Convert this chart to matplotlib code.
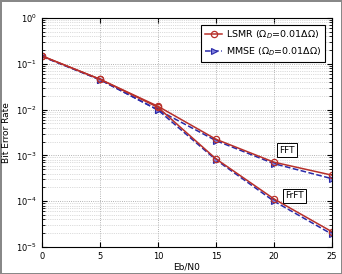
import matplotlib
matplotlib.use("Agg")
import matplotlib.pyplot as plt

# Eb/N0 points
ebn0 = [0, 5, 10, 15, 20, 25]

# BER values
lsmr_fft = [0.148, 0.046, 0.0118, 2.25e-3, 7.1e-4, 3.7e-4]
lsmr_frft = [0.148, 0.046, 0.0112, 8.4e-4, 1.12e-4, 2.15e-5]
mmse_fft = [0.145, 0.045, 0.0098, 2.1e-3, 6.6e-4, 3.1e-4]
mmse_frft = [0.145, 0.045, 0.0098, 8.0e-4, 1.0e-4, 1.9e-5]

xticks = [0, 5, 10, 15, 20, 25]

red = "#b8302a"
blue = "#2a2aa8"

fig = plt.figure(figsize=(3.42, 2.74), dpi=100)
fig.patch.set_edgecolor("#888888")
fig.patch.set_linewidth(2)
ax = fig.add_axes([42 / 342, 1 - 247 / 274, 290 / 342, 229 / 274])

for y in (mmse_fft, mmse_frft):
    ax.semilogy(ebn0, y, "--", color=blue, lw=1.1, marker=">", ms=4.5,
                mfc="#8080e0", mec=blue, mew=0.8)
for y in (lsmr_fft, lsmr_frft):
    ax.semilogy(ebn0, y, "-", color=red, lw=1.1, marker="o", ms=4.5,
                mfc="none", mec=red, mew=0.9)

ax.set_xlim(0, 25)
ax.set_ylim(1e-5, 1)
ax.set_xticks(xticks)
ax.grid(True, which="major", ls=":", color="#999999", lw=0.6)
ax.grid(True, which="minor", ls=":", color="#bbbbbb", lw=0.5)
ax.tick_params(which="both", direction="in", labelsize=6, top=True, right=True)
ax.set_xlabel("Eb/N0", fontsize=6.5, labelpad=1)
ax.set_ylabel("Bit Error Rate", fontsize=6.5, labelpad=4)

h_l, = ax.plot([], [], "-", color=red, lw=1.1, marker="o", ms=4.5,
               mfc="none", mec=red, mew=0.9)
h_m, = ax.plot([], [], "--", color=blue, lw=1.1, marker=">", ms=4.5,
               mfc="#8080e0", mec=blue, mew=0.8)
leg = ax.legend([h_l, h_m],
                [r"LSMR ($\Omega_D$=0.01$\Delta\Omega$)",
                 r"MMSE ($\Omega_D$=0.01$\Delta\Omega$)"],
                loc="upper right", fontsize=6.8, fancybox=False,
                framealpha=1, edgecolor="black", borderaxespad=0.7,
                handlelength=1.8, handletextpad=0.4)
leg.get_frame().set_linewidth(0.8)

box = dict(boxstyle="square,pad=0.25", fc="white", ec="black", lw=0.7)
ax.text(21.1, 1.3e-3, "FFT", fontsize=6.5, ha="center", va="center", bbox=box)
ax.text(21.8, 1.3e-4, "FrFT", fontsize=6.5, ha="center", va="center", bbox=box)

fig.savefig("out.png", dpi=100, edgecolor=fig.get_edgecolor())
